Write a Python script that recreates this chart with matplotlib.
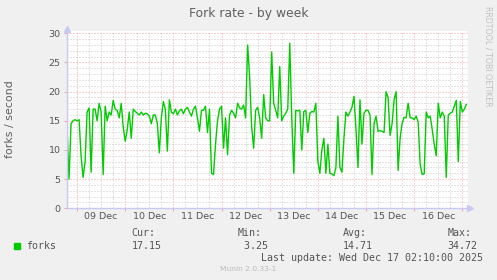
import matplotlib
matplotlib.use("Agg")
import matplotlib.pyplot as plt
import matplotlib.dates as mdates
from matplotlib.patches import Rectangle
from matplotlib.ticker import MultipleLocator, NullFormatter, FuncFormatter
import pandas as pd

# hourly fork rate (Dec 8 19:00 -> Dec 17 02:00)
forks = [
    14, 5, 14.5, 15, 15.2, 15, 15.2, 9, 5.3, 8,
    16.5, 17.2, 6.2, 17, 17, 15, 18, 16.5, 5.8, 17.5,
    15, 16.5, 16, 18.5, 17, 16.8, 15.5, 18, 14, 11.5,
    13.5, 16.5, 12, 17,
    16.6, 16.3, 16, 16.5, 16, 16.3, 16.2, 15.8, 14.5, 16,
    16, 14.5, 9.5, 15.5, 18.3, 17, 9.8, 18.6, 16.5, 16.2,
    17, 16, 16.7, 17, 16.2, 17, 17.3, 16.5, 15.8, 17,
    17.5, 15.5, 13.2,
    16.8, 16.8, 17.5, 13, 17, 6, 5.8, 11, 15, 17,
    17.5, 10.3, 15.5, 9.2, 16, 16.8, 16.3, 15.5, 18, 17.2,
    17, 17.7, 15.5, 28, 22.5, 14, 10.3, 16.8, 17.3, 15.5,
    12, 19.5, 15.5,
    15, 15, 26.8, 18, 16.8, 15.5, 24.3, 15, 15.8, 16.3,
    17, 28.3, 15.5, 6, 16.8, 16.7, 16.8, 10, 16.6, 16.8,
    13, 16.3, 16.6, 16.5, 18, 8, 6, 10, 12, 6,
    11, 6, 5.9,
    5.6, 7, 15.8, 7, 6.2, 12, 16.5, 15.8, 16.5, 17.3,
    19.2, 13.5, 7, 18.6, 11, 16.3, 16.8, 16.8, 16, 5.8,
    14.5, 15.8, 13.2, 13.3, 13.2, 13, 20, 19, 12.5, 14.5,
    18.6, 20, 6.5,
    12, 14.6, 15.6, 15.5, 18, 15.5, 15.5, 15.2, 15.8, 14.8,
    7.5, 5.8, 5.9, 16.5, 15.5, 15.8, 13.5, 11, 9, 18,
    15.5, 16.5, 15.8, 5.3, 16, 16.3, 16.5, 17.5, 18.5, 8,
    18.3, 16.5, 17, 17.8,
]
times = pd.date_range("2025-12-08 19:00", periods=len(forks), freq="h")

stat_names = ["Cur:", "Min:", "Avg:", "Max:"]
stat_values = [17.15, 3.25, 14.71, 34.72]
last_update = "Last update: Wed Dec 17 02:10:00 2025"

W, H = 497, 280
BG = "#F0F0F0"
TXT = "#555555"
GREEN = "#00CC00"
MGRID = "#F0A0A0"
GRID = "#C8C8C8"
AXIS = "#C8C8F5"


def fx(x):
    return x / W


def fy(y):
    return 1 - y / H


fig = plt.figure(figsize=(W / 100, H / 100), dpi=100, facecolor=BG)
ax = fig.add_axes([fx(66.7), fy(208.3), fx(401.3), (208.3 - 30.5) / H])
ax.set_facecolor("white")

ax.plot(times, forks, color=GREEN, lw=1.0, zorder=3)

ax.set_xlim(pd.Timestamp("2025-12-08 18:50"), pd.Timestamp("2025-12-17 02:50"))
ax.set_ylim(0, 30 * 177.8 / 175)

ax.yaxis.set_major_locator(MultipleLocator(5))
ax.yaxis.set_minor_locator(MultipleLocator(1))
ax.set_yticks(range(0, 31, 5))
ax.yaxis.set_minor_formatter(NullFormatter())

ax.xaxis.set_major_locator(mdates.DayLocator())
ax.xaxis.set_minor_locator(mdates.HourLocator(byhour=[6, 12, 18]))
ax.xaxis.set_major_formatter(NullFormatter())
ax.xaxis.set_minor_formatter(FuncFormatter(
    lambda v, pos: mdates.num2date(v).strftime("%d Dec")
    if mdates.num2date(v).hour == 12 else ""))

ax.grid(which="major", color=MGRID, lw=0.72, ls=(0, (1, 2)), zorder=1)
ax.grid(which="minor", color=GRID, lw=0.72, ls=(0, (1, 2)), zorder=0)

ax.tick_params(which="major", length=2, width=0.7, color=MGRID,
               labelsize=6.8, labelcolor=TXT)
ax.tick_params(axis="y", which="major", pad=2.5)
ax.tick_params(axis="x", which="minor", length=0, pad=2.5,
               labelsize=6.8, labelcolor=TXT)
ax.tick_params(axis="y", which="minor", length=0)

for s in ["top", "right"]:
    ax.spines[s].set_visible(False)
for s in ["left", "bottom"]:
    ax.spines[s].set_color(AXIS)
    ax.spines[s].set_linewidth(1.0)
    ax.spines[s].set_zorder(4)

# axis arrows
ax.plot([0], [1.011], marker="^", ms=4.5, color=AXIS, mec=AXIS,
        transform=ax.transAxes, clip_on=False)
ax.plot([1.006], [0], marker=">", ms=4.5, color=AXIS, mec=AXIS,
        transform=ax.transAxes, clip_on=False)

fig.text(fx(248.5), fy(13), "Fork rate - by week", ha="center", va="center",
         fontsize=8.9, color="#606060")
fig.text(fx(10), fy(119), "forks / second", rotation=90, ha="center",
         va="center", fontsize=7.9, color="#606060")
fig.text(fx(488.3), fy(56), "RRDTOOL / TOBI OETIKER", rotation=270,
         ha="center", va="center", fontsize=5.7, color="#C0C0C0")

mono = "DejaVu Sans Mono"
fig.patches.append(Rectangle((fx(14), fy(248.5)), 6 / W, 6 / H,
                             transform=fig.transFigure, color=GREEN))
fig.text(fx(26.3), fy(245.7), "forks", family=mono, fontsize=7.2,
         color=TXT, va="center")
for name, val, x in zip(stat_names, stat_values, [131.7, 237.7, 342.7, 447.3]):
    fig.text(fx(x), fy(233.3), name, family=mono, fontsize=7.2,
             color=TXT, va="center")
    fig.text(fx(x), fy(245.7), "%5.2f" % val, family=mono, fontsize=7.2,
             color=TXT, va="center")
fig.text(fx(483.3), fy(257.7), last_update, family=mono, fontsize=7.2,
         color=TXT, va="center", ha="right")
fig.text(fx(248.5), fy(269), "Munin 2.0.33-1", fontsize=5.4,
         color="#BBBBBB", ha="center", va="center")

fig.savefig("out.png", dpi=100, facecolor=BG)
